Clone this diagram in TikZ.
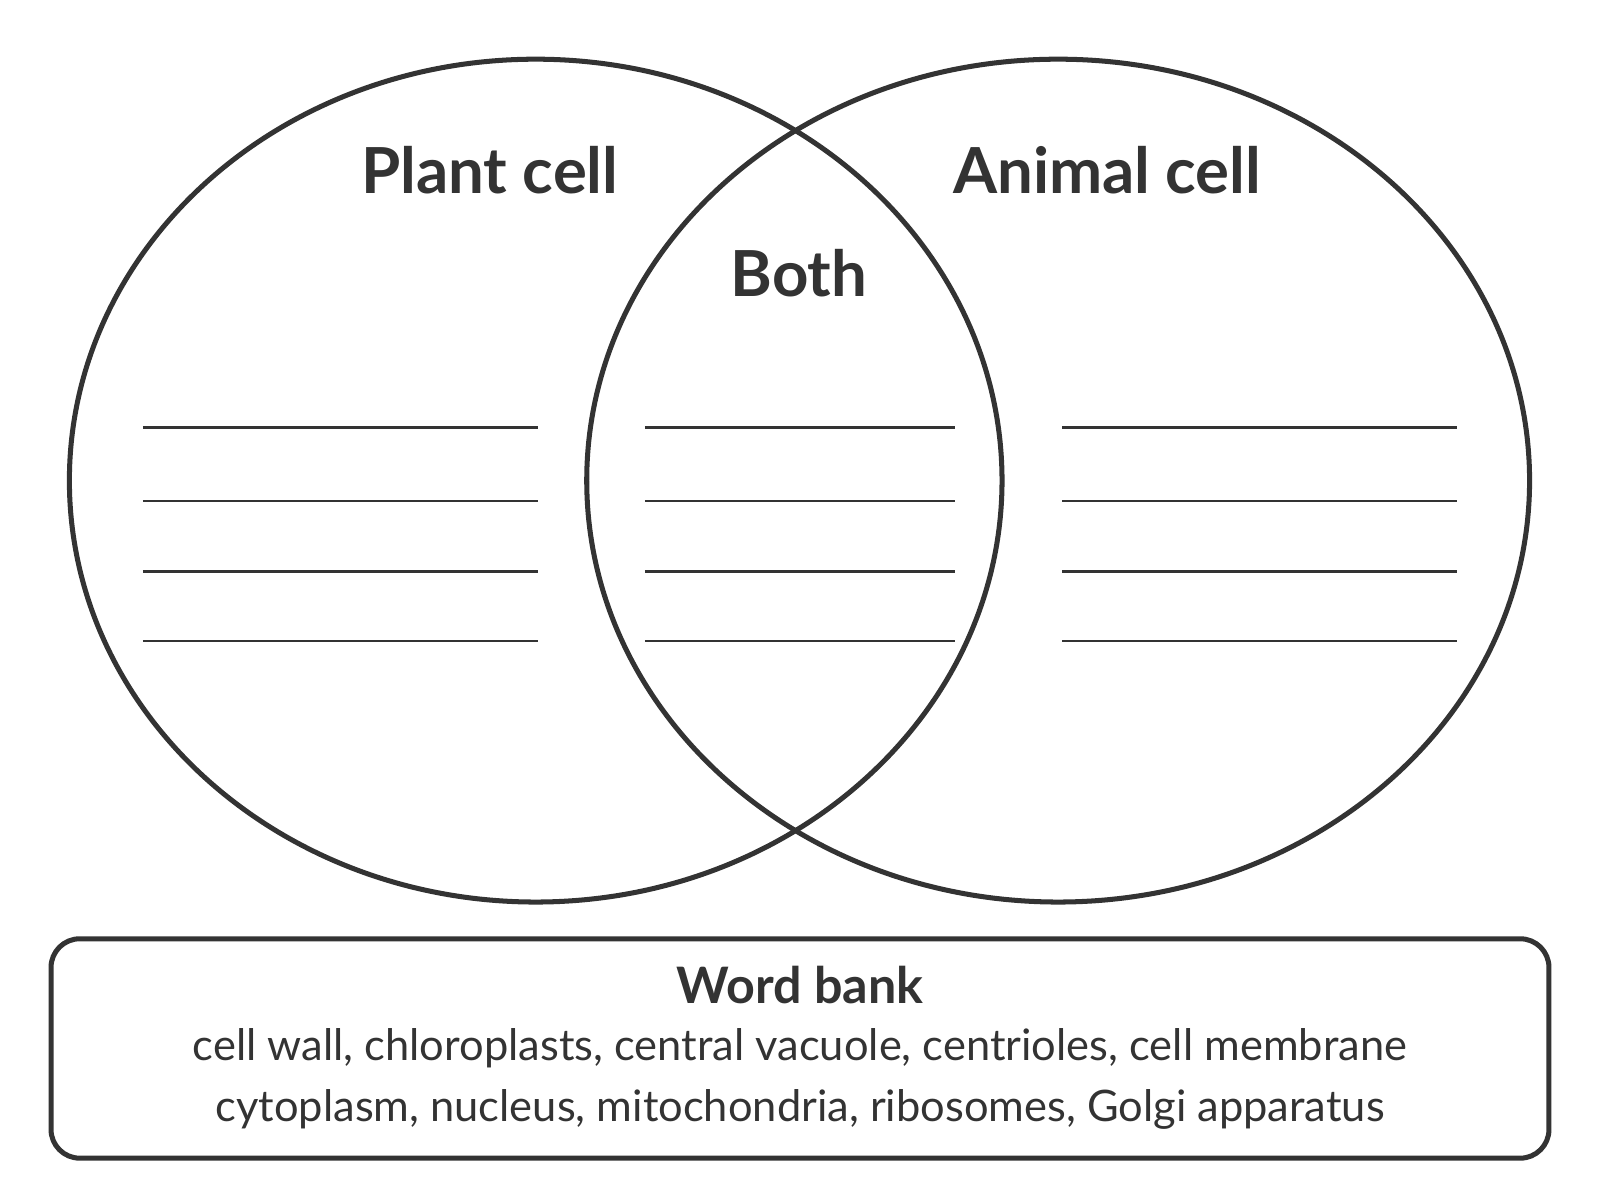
\documentclass[tikz,border=0pt]{standalone}
\usepackage{fontspec}
\setmainfont{Lato}
\tikzset{>=latex}
\begin{document}
\begin{tikzpicture}[x=0.01cm,y=-0.01cm,
		ring/.style = {draw=black!80, line width=1.4pt},
		blank/.style = {draw=black!80, line width=0.6pt},
		title/.style = {font=\fontsize{17.7}{20}\selectfont\bfseries, text=black!80},
		words/.style = {font=\fontsize{12.1}{14}\selectfont, text=black!80},
	]
	\useasboundingbox (0,0) rectangle (1568,1176);
	\draw[ring] (525,471) ellipse [x radius=457, y radius=413];
	\draw[ring] (1037,471) ellipse [x radius=462, y radius=413];
	\node[title] (plant) at (480,167) {Plant cell};
	\node[title] (animal) at (1085,167) {Animal cell};
	\node[title] (both) at (783,268) {Both};
	\foreach \y in {419, 491, 560, 628}
	{
		\draw[blank] (140,\y) -- (527,\y);
		\draw[blank] (632,\y) -- (936,\y);
		\draw[blank] (1041,\y) -- (1428,\y);
	};
	\draw[ring, rounded corners=8] (50,920) rectangle (1518,1135);
	\node[font=\fontsize{14}{16}\selectfont\bfseries, text=black!80] (bank) at (784,965) {Word bank};
	\node[words] (words1) at (784,1027) {cell wall, chloroplasts, central vacuole, centrioles, cell membrane};
	\node[words] (words2) at (784,1087) {cytoplasm, nucleus, mitochondria, ribosomes, Golgi apparatus};
\end{tikzpicture}
\end{document}
